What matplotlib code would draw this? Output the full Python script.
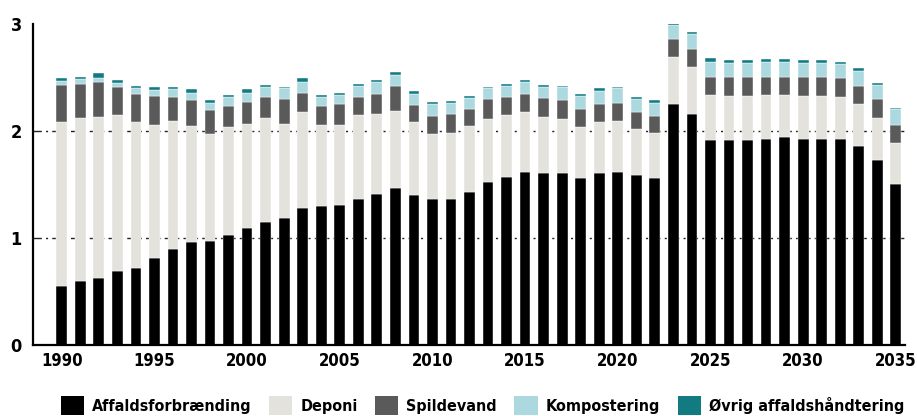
import matplotlib.pyplot as plt
from matplotlib.patches import Patch

years = list(range(1990, 2036))

affaldsforbraending = [0.55, 0.60, 0.63, 0.69, 0.72, 0.81, 0.90, 0.96, 0.97, 1.03,
                       1.09, 1.15, 1.19, 1.28, 1.30, 1.31, 1.36, 1.41, 1.47, 1.40,
                       1.36, 1.36, 1.43, 1.52, 1.57, 1.62, 1.61, 1.61, 1.56, 1.61,
                       1.62, 1.59, 1.56, 2.25, 2.16, 1.92, 1.92, 1.92, 1.93, 1.94,
                       1.93, 1.93, 1.93, 1.86, 1.73, 1.50]
deponi = [1.53, 1.52, 1.50, 1.46, 1.36, 1.25, 1.19, 1.09, 1.00, 1.01,
          0.98, 0.97, 0.88, 0.90, 0.76, 0.75, 0.79, 0.75, 0.72, 0.68,
          0.61, 0.62, 0.62, 0.59, 0.58, 0.56, 0.52, 0.50, 0.48, 0.47,
          0.47, 0.43, 0.42, 0.44, 0.44, 0.42, 0.41, 0.41, 0.41, 0.40,
          0.40, 0.40, 0.39, 0.39, 0.39, 0.39]
spildevand = [0.35, 0.32, 0.33, 0.26, 0.27, 0.27, 0.23, 0.24, 0.23, 0.19,
              0.20, 0.20, 0.23, 0.18, 0.17, 0.19, 0.17, 0.19, 0.23, 0.16,
              0.17, 0.18, 0.16, 0.19, 0.17, 0.17, 0.18, 0.18, 0.17, 0.17,
              0.17, 0.16, 0.16, 0.17, 0.17, 0.17, 0.18, 0.18, 0.17, 0.17,
              0.18, 0.18, 0.18, 0.17, 0.18, 0.17]
kompostering = [0.04, 0.05, 0.04, 0.04, 0.05, 0.05, 0.07, 0.07, 0.06, 0.09,
                0.09, 0.09, 0.10, 0.10, 0.09, 0.09, 0.10, 0.11, 0.10, 0.11,
                0.11, 0.10, 0.10, 0.10, 0.10, 0.11, 0.10, 0.12, 0.12, 0.12,
                0.14, 0.12, 0.12, 0.13, 0.14, 0.14, 0.13, 0.13, 0.14, 0.14,
                0.13, 0.13, 0.13, 0.14, 0.13, 0.15]
oevrig = [0.03, 0.02, 0.04, 0.03, 0.02, 0.03, 0.02, 0.03, 0.03, 0.02,
          0.03, 0.02, 0.01, 0.04, 0.02, 0.02, 0.02, 0.02, 0.03, 0.02,
          0.02, 0.02, 0.02, 0.01, 0.02, 0.02, 0.02, 0.01, 0.02, 0.03,
          0.01, 0.02, 0.03, 0.02, 0.02, 0.03, 0.02, 0.02, 0.02, 0.02,
          0.02, 0.02, 0.02, 0.03, 0.02, 0.01]

series = [
    ("Affaldsforbrænding", affaldsforbraending, "#000000"),
    ("Deponi", deponi, "#e4e2dc"),
    ("Spildevand", spildevand, "#5a5a5a"),
    ("Kompostering", kompostering, "#acd9df"),
    ("Øvrig affaldshåndtering", oevrig, "#127b82"),
]

plt.rcParams['font.family'] = ['DejaVu Sans']
plt.rcParams['font.stretch'] = 'condensed'
plt.rcParams['font.weight'] = 'bold'

fig = plt.figure(figsize=(9.17, 4.16), dpi=100)
ax = fig.add_axes([0.036, 0.171, 0.951, 0.771])

bottom = [0.0] * len(years)
for name, vals, color in series:
    ax.bar(years, vals, bottom=bottom, width=0.58, color=color,
           edgecolor='white', linewidth=0.3, zorder=3)
    bottom = [b + v for b, v in zip(bottom, vals)]

# Dash-dot guide lines behind the bars
for y in (1, 2):
    ax.axhline(y, color='#222222', linewidth=1.0,
               linestyle=(0, (6, 3, 1.5, 3)), zorder=1)

ax.set_xlim(1988.45, 2035.5)
ax.set_ylim(0, 3)
ax.set_yticks([0, 1, 2, 3])
ax.set_xticks(range(1990, 2036, 5))
ax.tick_params(length=0, labelsize=12, pad=5)
ax.tick_params(axis='y', labelsize=13, pad=8)

for s in ('top', 'right'):
    ax.spines[s].set_visible(False)
ax.spines['left'].set_linewidth(1.6)
ax.spines['bottom'].set_linewidth(1.6)
ax.spines['left'].set_zorder(4)
ax.spines['bottom'].set_zorder(4)

handles = [Patch(facecolor=c, label=n) for n, _, c in series]
fig.legend(handles=handles, loc='center', bbox_to_anchor=(0.526, 0.025),
           ncol=5, frameon=False, fontsize=11.5, handlelength=1.45,
           handleheight=1.45, columnspacing=1.1, handletextpad=0.5)

fig.savefig('out.png', dpi=100)
